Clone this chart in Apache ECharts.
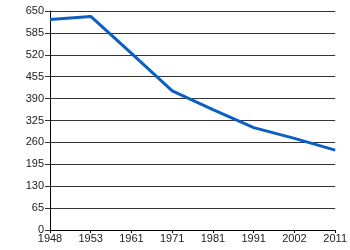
<!DOCTYPE html>
<html><head><meta charset="utf-8">
<script src="https://cdn.jsdelivr.net/npm/echarts@6/dist/echarts.min.js"></script>
<style>html,body{margin:0;padding:0;background:#fff}#c{width:350px;height:250px}</style>
</head><body><div id="c"></div>
<script>
const years = ['1948','1953','1961','1971','1981','1991','2002','2011'];
const values = [625, 634, 524, 413, 357, 304, 272, 237];
const chart = echarts.init(document.getElementById('c'));
chart.setOption({
  animation: false,
  grid: {left: 50, right: 14, top: 11, bottom: 20},
  xAxis: {
    type: 'category', data: years, boundaryGap: false,
    axisLine: {lineStyle: {color: '#000', width: 1}},
    axisTick: {show: true, length: 3, lineStyle: {color: '#000'}},
    axisLabel: {color: '#222', fontFamily: 'Liberation Sans', fontSize: 11, margin: 3}
  },
  yAxis: {
    type: 'value', min: 0, max: 650, interval: 65,
    axisLine: {show: true, lineStyle: {color: '#000', width: 1}},
    axisTick: {show: true, length: 5, lineStyle: {color: '#333'}},
    splitLine: {lineStyle: {color: '#333', width: 1}},
    axisLabel: {color: '#222', fontFamily: 'Liberation Sans', fontSize: 11, margin: 6}
  },
  series: [{
    type: 'line', data: values, symbol: 'none',
    lineStyle: {color: '#0b5fc2', width: 3}
  }]
});
</script></body></html>
